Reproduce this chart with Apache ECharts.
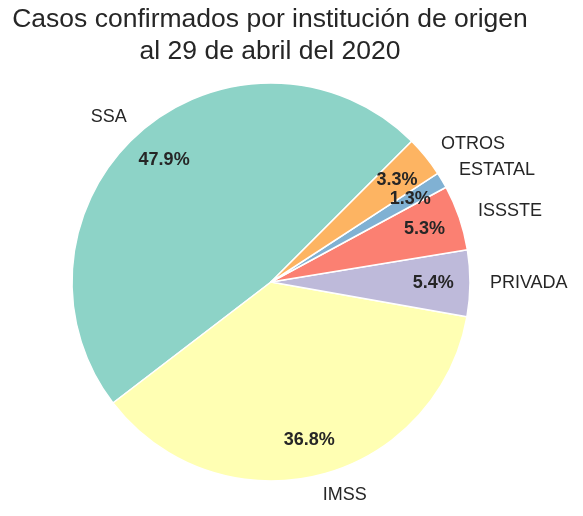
<!DOCTYPE HTML>
<html>
	<head>
		<meta http-equiv="Content-type" content="text/html; charset=UTF-8" />
		<script type="text/javascript" src="https://cdn.jsdelivr.net/npm/echarts@6/dist/echarts.min.js"></script>
		<style>
			html, body { margin: 0; padding: 0; background: #fff; }
		</style>
	</head>
	<body>
		<div id="div_1" style="width: 583px;height:516px;"></div>
	</body>
</html>

<script>
	// instituciones y porcentaje de casos
	var categorias = ['SSA', 'IMSS', 'PRIVADA', 'ISSSTE', 'ESTATAL', 'OTROS']
	var porcentajes = [47.9, 36.8, 5.4, 5.3, 1.3, 3.3]
	var colores = ['#8dd3c7', '#ffffb3', '#bebada', '#fb8072', '#80b1d3', '#fdb462']

	var fuente = '"Liberation Sans", Arial, "DejaVu Sans", sans-serif'
	var R = 199  // radio del pastel
	var centro = [271, 282]

	var datos = categorias.map(function (c, i) {
		return { name: c, value: porcentajes[i], itemStyle: { color: colores[i] } }
	})
	var datosPct = categorias.map(function (c, i) {
		return { name: c, value: porcentajes[i] }
	})

	var myChart = echarts.init(document.getElementById('div_1'))
	var option = {
		backgroundColor: '#ffffff',
		animation: false,
		title: {
			text: 'Casos confirmados por institución de origen\nal 29 de abril del 2020',
			left: 270,
			top: 4,
			padding: 0,
			textAlign: 'center',
			textStyle: {
				fontFamily: fuente,
				fontSize: 26.5,
				fontWeight: 'normal',
				color: '#262626',
				lineHeight: 32
			}
		},
		series: [{
				// sectores + etiquetas de afuera
				type: 'pie',
				center: centro,
				radius: R,
				startAngle: 45,
				clockwise: false,
				avoidLabelOverlap: false,
				silent: true,
				data: datos,
				itemStyle: {
					borderColor: '#ffffff',
					borderWidth: 1.5
				},
				label: {
					show: true,
					position: 'outside',
					formatter: '{b}',
					fontFamily: fuente,
					fontSize: 18,
					color: '#262626',
					distanceToLabelLine: 0,
					overflow: 'none'
				},
				labelLine: {
					show: false,
					length: R * 0.1,
					length2: 0
				}
			},
			{
				// porcentajes adentro (0.8 del radio)
				type: 'pie',
				center: centro,
				radius: [R * 0.6, R],
				startAngle: 45,
				clockwise: false,
				avoidLabelOverlap: false,
				silent: true,
				z: 5,
				data: datosPct,
				itemStyle: {
					color: 'rgba(0,0,0,0)',
					borderWidth: 0
				},
				label: {
					show: true,
					position: 'inside',
					formatter: function (p) {
						return p.value.toFixed(1) + '%'
					},
					fontFamily: fuente,
					fontSize: 18,
					fontWeight: 'bold',
					color: '#262626'
				},
				labelLine: { show: false }
			}
		]
	}
	myChart.setOption(option)
</script>
